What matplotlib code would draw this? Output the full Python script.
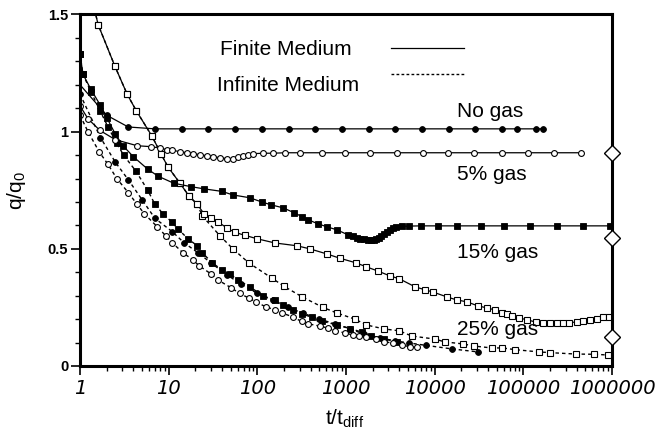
import numpy as np
import matplotlib
matplotlib.use("Agg")
import matplotlib.pyplot as plt
from matplotlib.ticker import FixedLocator, FixedFormatter, LogLocator, NullFormatter

# ── Data (t/t_diff, q/q0) ─────────────────────────────────────────────────
# Finite medium (solid lines)
fin_nogas_t = [1, 2, 3.5, 7, 14, 28, 56, 112, 225, 450, 900, 1800, 3600, 7200,
               14400, 28800, 57600, 85000, 140000, 165000]
fin_nogas_q = [1.20, 1.07, 1.02, 1.012, 1.012, 1.012, 1.012, 1.012, 1.012, 1.012,
               1.012, 1.012, 1.012, 1.012, 1.012, 1.012, 1.012, 1.012, 1.012, 1.012]

fin_5_t = [1, 1.23, 1.68, 2.5, 4.4, 6.3, 8, 9.5, 11, 13.4, 16, 18.8, 22.5, 27, 31.5,
           38, 45, 53, 60, 69, 78, 90, 116, 150, 205, 300, 530, 970, 1870, 3760,
           7300, 14000, 28000, 57000, 114000, 220000, 450000]
fin_5_q = [1.11, 1.055, 1.005, 0.966, 0.94, 0.936, 0.93, 0.923, 0.92, 0.915, 0.91,
           0.906, 0.902, 0.897, 0.893, 0.889, 0.885, 0.883, 0.89, 0.897, 0.90, 0.906,
           0.908, 0.908, 0.91, 0.91, 0.91, 0.91, 0.91, 0.91, 0.91, 0.91, 0.91, 0.91,
           0.91, 0.91, 0.91]

fin_15_t = [1, 1.08, 1.33, 1.68, 2.0, 2.5, 3.05, 4, 5.8, 7.6, 11.4, 18, 25, 40, 53,
            82, 112, 142, 195, 260, 320, 375, 480, 610, 790, 1050, 1200, 1320, 1450,
            1600, 1750, 1900, 2050, 2200, 2350, 2500, 2700, 2900, 3100, 3400, 3700,
            4300, 5100, 7000, 10800, 18000, 33000, 60000, 120000, 240000, 470000,
            950000]
fin_15_q = [1.33, 1.245, 1.18, 1.115, 1.06, 0.99, 0.94, 0.893, 0.84, 0.81, 0.78,
            0.765, 0.756, 0.745, 0.73, 0.718, 0.70, 0.688, 0.675, 0.654, 0.637, 0.624,
            0.607, 0.594, 0.581, 0.56, 0.553, 0.548, 0.544, 0.541, 0.538, 0.537,
            0.538, 0.541, 0.546, 0.553, 0.562, 0.572, 0.58, 0.588, 0.593, 0.596,
            0.597, 0.598, 0.598, 0.598, 0.598, 0.598, 0.598, 0.598, 0.598, 0.598]

fin_25_t = [1.4, 1.6, 2.47, 3.4, 4.3, 6.5, 8.2, 9.8, 13.4, 17, 21, 25, 30, 36, 45, 56,
            72, 99, 158, 280, 390, 610, 850, 1300, 1700, 2300, 3100, 4000, 6000,
            7800, 9500, 13700, 17700, 23000, 31000, 39000, 48000, 58000, 66000,
            75000, 90000, 110000, 140000, 165000, 200000, 240000, 280000, 330000,
            400000, 470000, 560000, 670000, 790000, 930000]
fin_25_q = [1.55, 1.457, 1.28, 1.16, 1.09, 0.98, 0.905, 0.85, 0.78, 0.725, 0.69,
            0.65, 0.63, 0.615, 0.59, 0.57, 0.558, 0.543, 0.525, 0.513, 0.50, 0.478,
            0.46, 0.44, 0.423, 0.405, 0.385, 0.372, 0.338, 0.325, 0.316, 0.295,
            0.282, 0.274, 0.256, 0.248, 0.239, 0.226, 0.22, 0.214, 0.205, 0.197,
            0.187, 0.184, 0.183, 0.183, 0.183, 0.185, 0.188, 0.192, 0.197, 0.202,
            0.207, 0.21]

# Infinite medium (dashed lines)
inf_nogas_t = [1, 1.7, 2.5, 3.5, 5, 7, 11, 15, 21.5, 30, 45, 65, 100, 150, 220, 330,
               500, 750, 1100, 1600, 2400, 3600, 5200, 8000, 15600, 31000]
inf_nogas_q = [1.16, 0.975, 0.87, 0.795, 0.71, 0.63, 0.573, 0.525, 0.483, 0.44,
               0.39, 0.35, 0.31, 0.28, 0.25, 0.225, 0.2, 0.18, 0.16, 0.135, 0.12,
               0.107, 0.098, 0.088, 0.073, 0.06]

inf_5_t = [1, 1.23, 1.64, 2.07, 2.6, 3.5, 4.4, 5.3, 7.4, 9.3, 10.9, 14.5, 18.8, 22,
           30, 36, 51, 63, 80, 96, 125, 158, 190, 250, 315, 375, 510, 625, 750, 980,
           1200, 1400, 1700, 2200, 2700, 3400, 4300, 5300, 6400]
inf_5_q = [1.07, 1.0, 0.915, 0.86, 0.80, 0.74, 0.69, 0.65, 0.595, 0.555, 0.527,
           0.483, 0.453, 0.428, 0.393, 0.367, 0.333, 0.31, 0.29, 0.274, 0.252, 0.24,
           0.226, 0.21, 0.19, 0.18, 0.17, 0.162, 0.15, 0.141, 0.132, 0.128, 0.124,
           0.115, 0.103, 0.098, 0.09, 0.081, 0.081]

inf_15_t = [1, 1.08, 1.33, 1.68, 2.07, 2.6, 3.1, 4.3, 5.8, 7, 8.6, 10.8, 12.7, 16.5,
            21, 24, 31, 40, 49, 60, 82, 116, 158, 195, 250, 320, 410, 530, 790,
            1100, 1500, 1900, 2700, 3800]
inf_15_q = [1.33, 1.245, 1.17, 1.09, 1.02, 0.95, 0.90, 0.83, 0.75, 0.69, 0.65,
            0.615, 0.585, 0.543, 0.513, 0.483, 0.44, 0.41, 0.393, 0.367, 0.338, 0.30,
            0.28, 0.26, 0.24, 0.222, 0.208, 0.192, 0.175, 0.16, 0.145, 0.13, 0.115,
            0.103]

inf_25_t = [1.4, 1.6, 2.47, 3.4, 4.3, 6.5, 8.2, 9.8, 13.4, 17, 21, 24, 38, 53, 80,
            146, 200, 320, 550, 790, 1260, 1700, 2700, 4000, 5500, 10000, 13000,
            21000, 28000, 44000, 58000, 80000, 150000, 200000, 390000, 630000, 890000]
inf_25_q = [1.55, 1.457, 1.28, 1.16, 1.09, 0.98, 0.905, 0.85, 0.78, 0.725, 0.69,
            0.64, 0.555, 0.50, 0.44, 0.375, 0.34, 0.295, 0.25, 0.226, 0.20, 0.175,
            0.158, 0.15, 0.128, 0.115, 0.103, 0.094, 0.085, 0.077, 0.077, 0.07,
            0.06, 0.057, 0.051, 0.05, 0.047]

# open diamonds on the right axis
diamond_q = [0.91, 0.547, 0.124]

x_ticks = [1, 10, 100, 1000, 10000, 100000, 1000000]
x_ticklabels = ["1", "10", "100", "1000", "10000", "100000", "1000000"]
y_ticks = [0, 0.5, 1, 1.5]
y_ticklabels = ["0", "0.5", "1", "1.5"]

# ── Figure ────────────────────────────────────────────────────────────────
plt.rcParams["font.family"] = ["Liberation Sans", "DejaVu Sans"]
fig = plt.figure(figsize=(6.69, 4.38), dpi=100)
ax = fig.add_axes([0.1196, 0.1644, 0.7952, 0.8025])

INK = "black"
SOLID = dict(color=INK, linewidth=0.9, linestyle="-")
DASH = dict(color=INK, linewidth=1.0, linestyle=(0, (2.5, 2.2)))
MS = 4.2

def filled(marker):
    return dict(marker=marker, markersize=MS, markerfacecolor=INK,
                markeredgecolor=INK, markeredgewidth=0.6)

def hollow(marker):
    return dict(marker=marker, markersize=MS, markerfacecolor="white",
                markeredgecolor=INK, markeredgewidth=0.8)

# infinite medium first (underneath)
ax.plot(inf_25_t, inf_25_q, **DASH, **hollow("s"))
ax.plot(inf_15_t, inf_15_q, **DASH, **filled("s"))
ax.plot(inf_nogas_t, inf_nogas_q, **DASH, **filled("o"))
ax.plot(inf_5_t, inf_5_q, **DASH, **hollow("o"))

# finite medium
ax.plot(fin_25_t, fin_25_q, **SOLID, **hollow("s"))
ax.plot(fin_15_t, fin_15_q, **SOLID, **filled("s"))
ax.plot(fin_5_t, fin_5_q, **SOLID, **hollow("o"))
ax.plot(fin_nogas_t[1:], fin_nogas_q[1:], linestyle="none", **filled("o"))
ax.plot(fin_nogas_t, fin_nogas_q, **SOLID)

ax.plot([1e6] * len(diamond_q), diamond_q, linestyle="none", marker="D",
        markersize=8, markerfacecolor="white", markeredgecolor=INK,
        markeredgewidth=1.0, clip_on=False, zorder=5)

# ── Axes ─────────────────────────────────────────────────────────────────
ax.set_xscale("log")
ax.set_xlim(1, 1e6)
ax.set_ylim(0, 1.5)

ax.xaxis.set_major_locator(FixedLocator(x_ticks))
ax.xaxis.set_major_formatter(FixedFormatter(x_ticklabels))
ax.xaxis.set_minor_locator(LogLocator(base=10, subs=np.arange(2, 10)))
ax.xaxis.set_minor_formatter(NullFormatter())
ax.yaxis.set_major_locator(FixedLocator(y_ticks))
ax.yaxis.set_major_formatter(FixedFormatter(y_ticklabels))
ax.yaxis.set_minor_locator(FixedLocator(np.arange(0.1, 1.5, 0.1)))

ax.tick_params(axis="both", which="major", direction="out", length=6.5,
               width=1.2, color=INK)
ax.tick_params(axis="both", which="minor", direction="out", length=3.5,
               width=1.0, color=INK)
ax.tick_params(axis="x", which="major", pad=3)
ax.tick_params(axis="y", which="major", pad=2)
ax.tick_params(top=False, right=False, which="both")

for lab in ax.get_xticklabels():
    lab.set_family("DejaVu Sans")
    lab.set_style("oblique")
    lab.set_fontsize(14)
for lab in ax.get_yticklabels():
    lab.set_fontsize(10.5)
    lab.set_fontweight("bold")

for spine in ax.spines.values():
    spine.set_linewidth(2.2)
    spine.set_color(INK)

# axis titles
fig.text(345 / 669, 1 - 419 / 438, r"t/t$_\mathregular{diff}$", fontsize=15,
         ha="center", va="center")
fig.text(17 / 669, 1 - 191 / 438, r"q/q$_\mathregular{0}$", fontsize=15,
         ha="center", va="center", rotation=90)

# legend drawn by hand, as in the original figure
ax.text(38, 1.329, "Finite Medium", fontsize=15, va="baseline")
ax.text(35, 1.175, "Infinite Medium", fontsize=15, va="baseline")
ax.plot([3200, 21300], [1.359, 1.359], color=INK, linewidth=0.9)
ax.plot([3200, 21300], [1.244, 1.244], color=INK, linewidth=1.0,
        linestyle=(0, (2.0, 1.6)))

# curve labels
ax.text(1.8e4, 1.064, "No gas", fontsize=15, va="baseline")
ax.text(1.8e4, 0.795, "5% gas", fontsize=15, va="baseline")
ax.text(1.8e4, 0.462, "15% gas", fontsize=15, va="baseline")
ax.text(1.8e4, 0.132, "25% gas", fontsize=15, va="baseline")

fig.savefig("out.png", dpi=100)
